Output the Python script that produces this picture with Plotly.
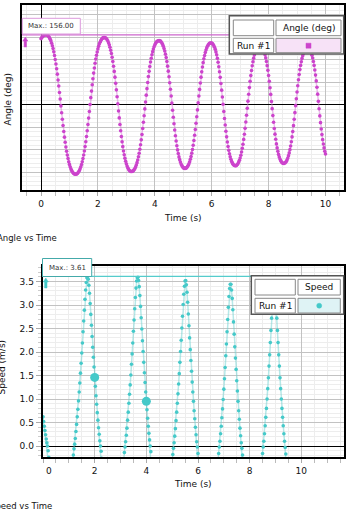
import plotly.graph_objects as go

W, H = 352, 521

# ---------------- data ----------------
sample_interval_s = 0.025

angle_deg = [
    147.2, 149.6, 151.6, 153.3, 154.6, 155.4, 155.9, 156.0,
    155.7, 155.1, 153.7, 151.7, 149.1, 145.9, 142.0, 137.2, 131.7, 125.3, 118.1, 110.1, 101.1, 91.1, 80.4, 68.5,
    55.7, 42.1, 27.9, 13.3, -2.0, -17.1, -31.7, -45.7, -59.0, -71.5, -82.9, -93.3, -102.9, -111.4, -119.0, -126.0,
    -132.0, -137.2, -141.7, -145.3, -148.2, -150.5, -152.3, -153.3, -153.8,
    -153.9, -153.5, -152.5, -150.8, -148.5, -145.5, -141.9, -137.4, -132.1, -126.0, -118.9, -111.1, -102.4, -92.5,
    -81.7, -70.0, -57.1, -43.4, -29.1, -14.3, 1.1, 16.3, 30.9, 45.0, 58.4, 70.9, 82.2, 92.6, 102.1, 110.4, 117.9,
    124.7, 130.3, 135.4, 139.5, 142.9, 145.5, 147.6, 149.1, 149.7,
    150.0, 149.7, 149.0, 147.3, 145.0, 142.1, 138.4, 133.7, 128.2, 121.8, 114.3, 106.0, 96.6, 86.1, 74.6, 61.9,
    48.1, 33.6, 18.4, 2.6, -13.3, -28.7, -43.3, -57.3, -70.2, -81.9, -92.6, -102.3, -110.8, -118.3, -125.0, -130.7,
    -135.5, -139.4, -142.5, -144.9, -146.7, -147.6, -147.9,
    -147.8, -147.2, -145.8, -143.7, -141.0, -137.6, -133.3, -128.1, -122.2, -115.1, -107.3, -98.4, -88.4, -77.5,
    -65.5, -52.4, -38.4, -23.9, -8.7, 6.8, 21.9, 36.3, 50.1, 63.1, 74.8, 85.6, 95.4, 103.9, 111.6, 118.5, 124.2,
    129.3, 133.3, 136.6, 139.2, 141.1, 142.3, 142.8,
    143.0, 142.7, 141.9, 140.1, 137.7, 134.6, 130.7, 125.7, 120.0, 113.0, 105.3, 96.5, 86.3, 75.2, 62.9, 49.3,
    35.0, 19.9, 4.2, -11.7, -27.1, -41.7, -55.6, -68.4, -80.0, -90.5, -99.8, -108.0, -115.4, -121.5, -126.9,
    -131.3, -134.6, -137.3, -139.2, -140.4, -140.9,
    -140.8, -140.3, -139.0, -136.9, -134.1, -130.6, -126.1, -120.7, -114.4, -107.0, -98.8, -89.4, -78.9, -67.4,
    -54.5, -40.6, -26.1, -10.9, 4.8, 20.1, 34.7, 48.8, 61.9, 73.7, 84.5, 94.1, 102.5, 110.0, 116.6, 122.1, 126.8,
    130.5, 133.4, 135.6, 137.2, 137.8,
    137.9, 137.5, 136.4, 134.5, 131.7, 128.3, 123.6, 118.0, 111.4, 103.7, 95.1, 85.1, 73.8, 61.4, 47.6, 33.0,
    17.6, 1.5, -14.6, -30.0, -44.6, -58.4, -70.8, -82.1, -92.1, -100.8, -108.4, -115.0, -120.6, -125.3, -128.7,
    -131.5, -133.4, -134.5, -134.9,
    -134.8, -134.1, -132.4, -130.0, -126.9, -122.8, -117.7, -111.8, -104.5, -96.4, -87.1, -76.5, -64.9, -51.9,
    -37.8, -22.9, -7.4, 8.5, 23.9, 38.7, 52.5, 65.3, 76.7, 87.1, 96.1, 104.1, 111.1, 116.8, 121.7, 125.5, 128.5,
    130.8, 132.3, 132.8,
    132.9, 132.4, 131.1, 129.0, 126.0, 122.2, 117.4, 111.6, 104.6, 96.6, 87.4, 77.0, 65.4, 52.5, 38.4, 23.5, 7.9,
    -8.1, -23.6, -38.3, -52.2, -64.8, -76.2, -86.5, -95.3, -103.0, -109.8, -115.4, -120.1, -123.7, -126.4, -128.4,
    -129.5, -129.9,
    -129.7, -129.0, -127.4, -124.9, -121.8, -117.7, -112.6, -106.5, -99.2, -91.0, -81.6, -70.9, -59.1, -45.9,
    -31.8, -17.0, -1.5, 14.0, 28.8, 42.9, 56.1, 67.9, 78.6, 88.0, 96.2, 103.5, 109.6, 114.7, 118.8, 121.9, 124.4,
    126.0, 126.7,
    126.9, 126.5, 125.2, 123.0, 119.9, 115.9, 110.7, 104.3, 96.7, 88.0, 77.9, 66.4, 53.5, 39.3, 24.1, 8.1, -8.3,
    -24.2, -39.2, -53.2, -65.8, -77.0, -86.8, -95.3, -102.8, -108.7,
]

speed_ms = [
    0.62, 0.52, 0.42, 0.33, 0.24, 0.15, 0.07, 0.00,
    -0.10, -0.24, -0.38, -0.54, -0.69, -0.86, -1.04, -1.22, -1.42, -1.62, -1.83, -2.03, -2.25, -2.48, -2.71,
    -2.93, -3.15, -3.35, -3.49, -3.59, -3.61, -3.56, -3.44, -3.28, -3.07, -2.84, -2.62, -2.39, -2.16, -1.95,
    -1.74, -1.53, -1.34, -1.15, -0.97, -0.79, -0.63, -0.47, -0.33, -0.19, -0.06,
    0.04, 0.16, 0.31, 0.46, 0.62, 0.78, 0.96, 1.15, 1.34, 1.55, 1.76, 1.98, 2.19, 2.43, 2.66, 2.89, 3.12, 3.32,
    3.48, 3.58, 3.61, 3.55, 3.42, 3.25, 3.03, 2.80, 2.57, 2.33, 2.10, 1.89, 1.68, 1.46, 1.27, 1.07, 0.89, 0.71,
    0.55, 0.39, 0.25, 0.11,
    0.00, -0.11, -0.26, -0.42, -0.59, -0.76, -0.95, -1.14, -1.35, -1.56, -1.78, -2.01, -2.24, -2.49, -2.73,
    -2.97, -3.20, -3.39, -3.53, -3.58, -3.55, -3.42, -3.25, -3.02, -2.78, -2.54, -2.29, -2.05, -1.83, -1.60,
    -1.39, -1.18, -0.98, -0.80, -0.62, -0.45, -0.29, -0.14, -0.02,
    0.09, 0.23, 0.38, 0.55, 0.72, 0.91, 1.10, 1.30, 1.51, 1.74, 1.96, 2.19, 2.44, 2.68, 2.92, 3.16, 3.36, 3.51,
    3.58, 3.59, 3.52, 3.39, 3.20, 2.97, 2.73, 2.49, 2.24, 2.01, 1.78, 1.56, 1.35, 1.15, 0.95, 0.77, 0.59, 0.42,
    0.27, 0.13,
    0.00, -0.12, -0.28, -0.44, -0.61, -0.79, -0.99, -1.19, -1.41, -1.64, -1.87, -2.10, -2.36, -2.61, -2.86,
    -3.10, -3.30, -3.46, -3.52, -3.50, -3.37, -3.20, -2.96, -2.71, -2.46, -2.20, -1.96, -1.73, -1.50, -1.28,
    -1.07, -0.87, -0.68, -0.51, -0.34, -0.18, -0.05,
    0.07, 0.21, 0.37, 0.54, 0.72, 0.91, 1.11, 1.32, 1.54, 1.78, 2.01, 2.25, 2.51, 2.76, 3.01, 3.23, 3.40, 3.51,
    3.52, 3.43, 3.27, 3.06, 2.81, 2.56, 2.30, 2.05, 1.82, 1.59, 1.36, 1.15, 0.95, 0.75, 0.58, 0.40, 0.24, 0.09,
    -0.02, -0.16, -0.32, -0.49, -0.68, -0.88, -1.08, -1.30, -1.53, -1.78, -2.02, -2.28, -2.54, -2.80, -3.06,
    -3.26, -3.42, -3.47, -3.42, -3.26, -3.06, -2.80, -2.54, -2.28, -2.02, -1.78, -1.53, -1.30, -1.08, -0.88,
    -0.68, -0.49, -0.32, -0.16, -0.02,
    0.10, 0.26, 0.42, 0.60, 0.79, 0.99, 1.21, 1.43, 1.67, 1.92, 2.17, 2.43, 2.69, 2.95, 3.18, 3.35, 3.44, 3.44,
    3.32, 3.14, 2.90, 2.64, 2.38, 2.11, 1.87, 1.63, 1.39, 1.17, 0.95, 0.75, 0.57, 0.38, 0.22, 0.07,
    -0.05, -0.19, -0.36, -0.54, -0.72, -0.93, -1.14, -1.37, -1.61, -1.85, -2.10, -2.37, -2.63, -2.90, -3.13,
    -3.31, -3.40, -3.40, -3.28, -3.09, -2.84, -2.58, -2.31, -2.05, -1.80, -1.56, -1.32, -1.10, -0.89, -0.68,
    -0.50, -0.32, -0.16, -0.02,
    0.10, 0.26, 0.43, 0.61, 0.80, 1.00, 1.22, 1.45, 1.70, 1.94, 2.20, 2.46, 2.72, 2.98, 3.19, 3.34, 3.40, 3.34,
    3.19, 2.98, 2.72, 2.46, 2.20, 1.94, 1.70, 1.45, 1.22, 1.00, 0.80, 0.61, 0.43, 0.26, 0.10,
    -0.03, -0.17, -0.35, -0.54, -0.74, -0.95, -1.18, -1.42, -1.68, -1.94, -2.22, -2.50, -2.78, -3.04, -3.23,
    -3.34, -3.33, -3.20, -2.99, -2.72, -2.44, -2.16, -1.89, -1.63, -1.37, -1.14,
]

highlight_times_s = [2.0, 4.0]

time_ticks = [0, 2, 4, 6, 8, 10]
speed_ticks = [0.0, 0.5, 1.0, 1.5, 2.0, 2.5, 3.0, 3.5]

run_name = "Run #1"
angle_name = "Angle (deg)"
speed_name = "Speed"

# ---------------- derived ----------------
t_angle = [round(i * sample_interval_s, 3) for i in range(len(angle_deg))]
t_speed = [round(i * sample_interval_s, 3) for i in range(len(speed_ms))]
hl_vals = [speed_ms[round(t / sample_interval_s)] for t in highlight_times_s]
angle_max = max(angle_deg)
speed_max = max(speed_ms)


def px(x):
    return x / W


def py(y):
    return 1 - y / H


ANG = '#cc44cc'
ANG_LINE = 'rgba(214,120,214,0.5)'
SPD = '#45c9c9'
SPD_LINE = 'rgba(110,210,210,0.5)'
GRID = '#c2c2c2'
MINOR = '#ededed'
FONT = 'DejaVu Sans'

fig = go.Figure()
fig.add_trace(go.Scatter(x=t_angle, y=angle_deg, mode='lines+markers',
                         line=dict(color=ANG_LINE, width=1.5),
                         marker=dict(color=ANG, size=3.6),
                         xaxis='x', yaxis='y', showlegend=False, hoverinfo='skip'))
fig.add_trace(go.Scatter(x=t_speed, y=speed_ms, mode='lines+markers',
                         line=dict(color=SPD_LINE, width=1.5),
                         marker=dict(color=SPD, size=3.6),
                         xaxis='x2', yaxis='y2', showlegend=False, hoverinfo='skip'))
fig.add_trace(go.Scatter(x=highlight_times_s, y=hl_vals, mode='markers',
                         marker=dict(color=SPD, size=9),
                         xaxis='x2', yaxis='y2', showlegend=False, hoverinfo='skip'))

common_axis = dict(showline=True, mirror=True, linecolor='black', linewidth=1.5,
                   showgrid=True, gridcolor=GRID, gridwidth=1,
                   zeroline=True, zerolinecolor='black', zerolinewidth=1, automargin=False,
                   tickfont=dict(family=FONT, size=9, color='#111'), fixedrange=True)

fig.update_layout(
    width=W, height=H, margin=dict(l=0, r=0, t=0, b=0, pad=0),
    paper_bgcolor='white', plot_bgcolor='white', showlegend=False,
    font=dict(family=FONT, size=9, color='#111'),
    xaxis=dict(domain=[px(22), px(343.5)], anchor='y', range=[-0.668, 10.633],
               tickmode='array', tickvals=time_ticks, ticktext=[str(v) for v in time_ticks],
               ticks='outside', ticklen=4, tickcolor='#aaaaaa',
               minor=dict(tickmode='linear', tick0=0, dtick=0.5, showgrid=True, gridcolor=MINOR,
                          ticks='outside', ticklen=4, tickcolor='#bbbbbb'),
               **common_axis),
    yaxis=dict(domain=[py(190), py(5)], anchor='x', range=[-188.9, 222.2],
               tickmode='linear', tick0=0, dtick=50, showticklabels=False, ticks='',
               minor=dict(tickmode='linear', tick0=0, dtick=10, showgrid=True, gridcolor=MINOR),
               **common_axis),
    xaxis2=dict(domain=[px(42.5), px(343.5)], anchor='y2', range=[-0.02, 11.633],
                tickmode='array', tickvals=time_ticks,
                ticktext=[('\u00a0\u00a0\u00a0\u00a0' + str(v)) if v == 0 else str(v) for v in time_ticks],
                ticks='outside', ticklen=4, tickcolor='#aaaaaa',
                minor=dict(tickmode='linear', tick0=0, dtick=0.5, showgrid=True, gridcolor=MINOR,
                           ticks='outside', ticklen=4, tickcolor='#bbbbbb'),
                **common_axis),
    yaxis2=dict(domain=[py(457.3), py(265.7)], anchor='x2', range=[-0.24, 3.836],
                tickmode='array', tickvals=speed_ticks, ticktext=[f'{v:.1f}' for v in speed_ticks],
                ticks='outside', ticklen=5, tickcolor='#aaaaaa',
                minor=dict(tickmode='linear', tick0=0, dtick=0.1, showgrid=True, gridcolor=MINOR,
                           ticks='outside', ticklen=3, tickcolor='#cccccc'),
                **common_axis),
)

shapes = []
annotations = []


def rect(x0, y0, x1, y1, line='#888888', fill='white', lw=1.0):
    shapes.append(dict(type='rect', xref='paper', yref='paper', layer='above',
                       x0=px(x0), x1=px(x1), y0=py(y1), y1=py(y0),
                       line=dict(color=line, width=lw), fillcolor=fill))


def text(s, x, y, size=9, xanchor='center', angle=0, color='#111'):
    annotations.append(dict(text=s, xref='paper', yref='paper', x=px(x), y=py(y),
                            xanchor=xanchor, yanchor='middle', showarrow=False, textangle=angle,
                            font=dict(family=FONT, size=size, color=color)))


def arrow(xc, ytop, color):
    path = (f"M {px(xc - 2.5)},{py(ytop + 4)} L {px(xc)},{py(ytop)} L {px(xc + 2.5)},{py(ytop + 4)} "
            f"L {px(xc + 1.2)},{py(ytop + 4)} L {px(xc + 1.2)},{py(ytop + 10)} "
            f"L {px(xc - 1.2)},{py(ytop + 10)} L {px(xc - 1.2)},{py(ytop + 4)} Z")
    shapes.append(dict(type='path', xref='paper', yref='paper', layer='above', path=path,
                       fillcolor=color, line=dict(color=color, width=0.5)))


# max lines
shapes.append(dict(type='line', xref='paper', yref='y', layer='above',
                   x0=px(22), x1=px(343.5), y0=angle_max, y1=angle_max,
                   line=dict(color='#cc66cc', width=1.2)))
shapes.append(dict(type='line', xref='paper', yref='y2', layer='above',
                   x0=px(42.5), x1=px(343.5), y0=speed_max, y1=speed_max,
                   line=dict(color='#55cccc', width=1.2)))

# max labels
rect(22.3, 18.3, 80.3, 34.0, line='#dd99dd', fill='white', lw=1)
text(f"Max.: {angle_max:.2f}", 26, 26.3, size=7, xanchor='left', color='#333')
rect(42.5, 258.5, 91.7, 276.5, line='#44aaaa', fill='white', lw=1)
text(f"Max.: {speed_max:.2f}", 46.5, 267.5, size=7, xanchor='left', color='#333')

arrow(25.3, 37, ANG)
arrow(45.8, 278, SPD)

# legends
rect(229.3, 15.7, 343.7, 54.0, line='#555555', fill='white', lw=1.5)
rect(233.3, 20.0, 273.7, 35.7, line='#888888')
rect(276.0, 20.0, 341.0, 35.7, line='#888888')
rect(233.3, 38.3, 273.7, 52.7, line='#888888')
rect(276.0, 38.3, 341.0, 52.7, line='#888888', fill='#f7e2f7')
shapes.append(dict(type='rect', xref='paper', yref='paper', layer='above',
                   x0=px(306), x1=px(311), y0=py(48.2), y1=py(43.2),
                   fillcolor=ANG, line=dict(color=ANG, width=0.5)))
text(angle_name, 308.5, 28.0)
text(run_name, 253.5, 45.6)

rect(251.3, 275.7, 343.7, 314.3, line='#555555', fill='white', lw=1.5)
rect(255.0, 279.3, 295.3, 295.0, line='#888888')
rect(298.0, 279.3, 340.3, 295.0, line='#888888')
rect(255.0, 298.3, 295.3, 313.0, line='#888888')
rect(298.0, 298.3, 340.3, 313.0, line='#888888', fill='#dff3f5')
shapes.append(dict(type='circle', xref='paper', yref='paper', layer='above',
                   x0=px(316.7), x1=px(321.7), y0=py(308.2), y1=py(303.2),
                   fillcolor=SPD, line=dict(color=SPD, width=0.5)))
text(speed_name, 319.2, 287.2)
text(run_name, 275.2, 305.7)

# titles
text("Time (s)", 182.75, 218.3)
text("Time (s)", 193.0, 484.3)
text(angle_name, 7.5, 100, angle=-90)
text("Speed (m/s)", 1.5, 367, angle=-90)
text("Angle vs Time", -5.0, 238.3, size=8.5, xanchor='left')
text("Speed vs Time", -12.0, 505.7, size=8.5, xanchor='left')

fig.update_layout(shapes=shapes, annotations=annotations)
fig.write_html("out.html",
               post_script="document.body.style.margin='0px';document.body.style.overflow='hidden';")
